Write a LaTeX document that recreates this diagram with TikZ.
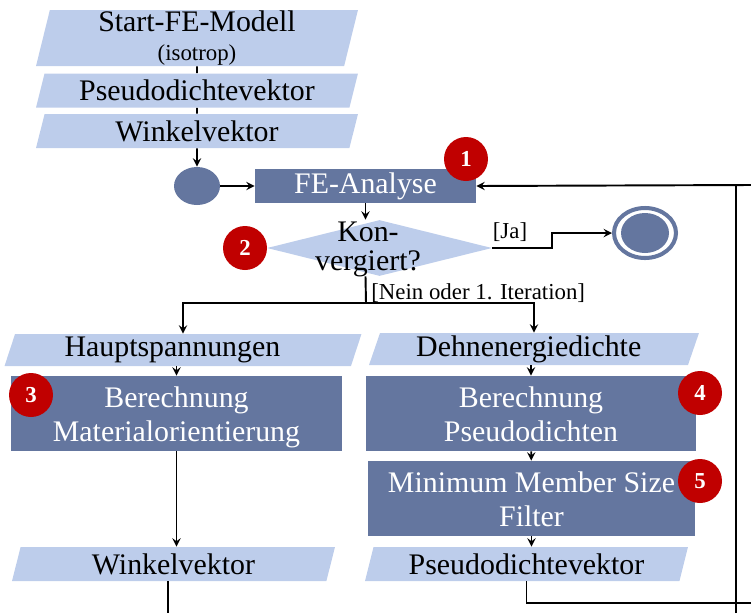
\documentclass[tikz,border=0pt]{standalone}
\usepackage{fontspec}
\setmainfont{Liberation Serif}
\usetikzlibrary{shapes, arrows}

\definecolor{hellblau}{HTML}{BDCDEB}
\definecolor{dunkelblau}{HTML}{64769F}
\definecolor{marker}{HTML}{C00000}

\newcommand{\obenrand}{\rule{0pt}{18pt}}

\begin{document}
\begin{tikzpicture}[
    x=0.02cm, y=-0.02cm,
    font=\fontsize{17}{19}\selectfont,
    daten/.style={trapezium, trapezium left angle=68, trapezium right angle=112,
      trapezium stretches body, fill=hellblau, inner sep=0pt,
      minimum width=6.44cm, minimum height=0.68cm},
    aktion/.style={rectangle, fill=dunkelblau, text=white, align=center, inner sep=0pt},
    zweizeilig/.style={aktion, minimum height=1.46cm},
    nummer/.style={circle, fill=marker, text=white, inner sep=0pt,
      font=\bfseries\fontsize{13}{13}\selectfont, minimum size=0.88cm},
    bedingung/.style={font=\fontsize{13}{15}\selectfont, inner sep=0pt},
    arrow/.style={->, >=stealth, line width=1.1pt},
    linie/.style={line width=1.1pt}
]
\useasboundingbox (0,0) rectangle (751,613);

% Nodes
\node[daten, minimum height=1.12cm, trapezium left angle=76, trapezium right angle=104,
    align=center] (startfe) at (197,38)
    {Start-FE-Modell\\[-2pt]{\fontsize{13}{15}\selectfont (isotrop)}};
\node[daten] (pdv1) at (197,90.5) {Pseudodichtevektor};
\node[daten] (wv1) at (197,131) {Winkelvektor};
\node[ellipse, fill=dunkelblau, minimum width=0.92cm, minimum height=0.76cm,
    inner sep=0pt] (init) at (197,186) {};
\node[aktion, minimum width=4.42cm, minimum height=0.68cm] (fea) at (365.5,186) {FE-Analyse};
\node[nummer] (n1) at (466,159) {1};

\node[diamond, fill=hellblau, minimum width=4.5cm, minimum height=1.12cm,
    inner sep=0pt] (konv) at (379.5,248) {};
\node[align=center, font=\fontsize{17}{16.5}\selectfont] (konvtext) at (368,249) {Kon-\\vergiert?};
\node[nummer] (n2) at (245,248) {2};
\node[bedingung] (ja) at (510,232) {[Ja]};
\node[ellipse, draw=dunkelblau, line width=2.3pt, fill=white, minimum width=1.24cm,
    minimum height=1.0cm, inner sep=0pt] (ende) at (645,233) {};
\node[ellipse, fill=dunkelblau, minimum width=0.96cm, minimum height=0.8cm,
    inner sep=0pt] (endekern) at (ende) {};
\node[bedingung, anchor=west] (nein) at (371,293) {[Nein oder 1. Iteration]};
\coordinate (split) at (366,303);

\node[daten, minimum width=7.14cm, minimum height=0.64cm] (haupt) at (183,350)
    {\hspace*{-12pt}Hauptspannungen};
\node[daten, minimum width=6.6cm, minimum height=0.64cm] (dehn) at (534,349)
    {\hspace*{-6pt}Dehnenergiedichte};
\node[zweizeilig, minimum width=6.62cm] (matori) at (176.5,413.5)
    {\obenrand Berechnung\\Materialorientierung\strut};
\node[nummer] (n3) at (31,395) {3};
\node[zweizeilig, minimum width=6.6cm] (pdber) at (531,413.5)
    {\obenrand Berechnung\\Pseudodichten\strut};
\node[nummer] (n4) at (700,393) {4};
\node[zweizeilig, minimum width=6.54cm] (mms) at (531.5,498.5)
    {\obenrand Minimum Member Size\\Filter\strut};
\node[nummer] (n5) at (700,481) {5};
\node[daten, minimum width=6.46cm] (wv2) at (173.5,564) {Winkelvektor};
\node[daten, minimum width=6.46cm] (pdv2) at (526.5,564) {Pseudodichtevektor};

% loop lines running off the edge
\coordinate (rechts) at (736,185);
\coordinate (rand) at (751,185);
\coordinate (unten) at (736,613);
\coordinate (ruecklauf) at (751,603);
\coordinate (wvaus) at (168,613);

% Arrows
\draw[linie] (startfe.south) -- (pdv1.north);
\draw[linie] (pdv1.south) -- (wv1.north);
\draw[arrow] (wv1.south) -- (init.north);
\draw[arrow] (init) -- (fea);
\draw[arrow] (fea.south) -- (fea.south |- konv.north);
\draw[arrow] (konv.east) -- ++(60,0) |- (ende);
\draw[linie] (fea.south |- konv.south) -- (split);
\draw[arrow] (split) -| (haupt.north);
\draw[arrow] (split) -| (dehn.north);
\draw[arrow] (matori.north |- haupt.south) -- (matori.north);
\draw[arrow] (pdber.north |- dehn.south) -- (pdber.north);
\draw[arrow] (pdber) -- (mms);
\draw[arrow] (mms.south) -- (mms.south |- pdv2.north);
\draw[arrow] (matori.south) -- (matori.south |- wv2.north);
\draw[linie] (wv2.south -| wvaus) -- (wvaus);
\draw[linie] (pdv2.south) |- (ruecklauf);
\draw[linie] (unten) -- (rechts);
\draw[arrow] (rand) -- (fea.east);

\end{tikzpicture}
\end{document}
